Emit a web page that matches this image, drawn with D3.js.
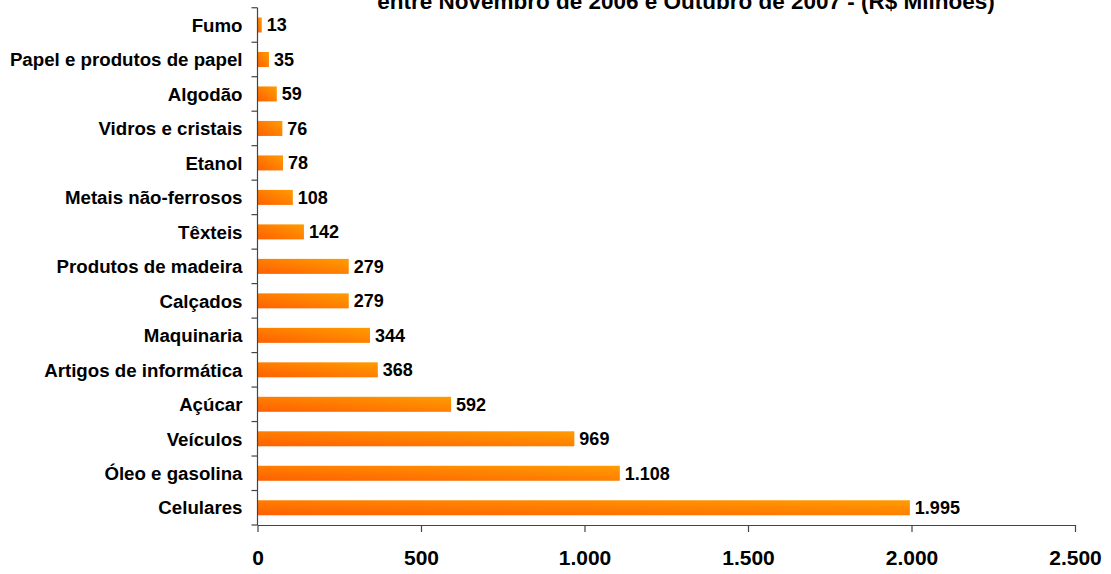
<!DOCTYPE html>
<html>
<head>
<meta charset="utf-8">
<script src="https://cdn.jsdelivr.net/npm/d3@7"></script>
<style>
  html, body { margin: 0; padding: 0; background: #fff; }
  svg { display: block; font-family: Arial, "Liberation Sans", sans-serif; }
</style>
</head>
<body>
<svg id="chart" width="1111" height="574"></svg>
<script>
const categories = ["Fumo", "Papel e produtos de papel", "Algodão", "Vidros e cristais", "Etanol",
  "Metais não-ferrosos", "Têxteis", "Produtos de madeira", "Calçados", "Maquinaria",
  "Artigos de informática", "Açúcar", "Veículos", "Óleo e gasolina", "Celulares"];
const values = [13, 35, 59, 76, 78, 108, 142, 279, 279, 344, 368, 592, 969, 1108, 1995];
const xTicks = [0, 500, 1000, 1500, 2000, 2500];
const titleText = "entre Novembro de 2006 e Outubro de 2007  - (R$ Milhões)";

const svg = d3.select("#chart");
const pLeft = 257.5, pRight = 1075, pTop = 7.75, pBottom = 525;

const fmt = v => d3.format(",")(v).replace(/,/g, ".");

const defs = svg.append("defs");
const grad = defs.append("linearGradient").attr("id", "barGrad")
  .attr("x1", "0").attr("y1", "1").attr("x2", "1").attr("y2", "0");
grad.append("stop").attr("offset", "0%").attr("stop-color", "#FF6000");
grad.append("stop").attr("offset", "100%").attr("stop-color", "#FF9C00");

const x = d3.scaleLinear().domain([0, 2500]).range([pLeft, pRight]);
const y = d3.scaleBand().domain(categories).range([pTop, pBottom])
  .paddingInner(0.565).paddingOuter(0.2825);

// title (clipped at top, as in the reference)
svg.append("text").attr("x", 686).attr("y", 9)
  .attr("text-anchor", "middle").attr("font-size", 22.5).attr("font-weight", "bold")
  .attr("fill", "#000").text(titleText);

// bars
svg.append("g").selectAll("rect").data(categories).join("rect")
  .attr("x", x(0)).attr("y", d => y(d))
  .attr("width", (d, i) => x(values[i]) - x(0))
  .attr("height", y.bandwidth())
  .attr("fill", "url(#barGrad)");

// value labels
svg.append("g").selectAll("text").data(categories).join("text")
  .attr("x", (d, i) => x(values[i]) + 5)
  .attr("y", d => y(d) + y.bandwidth() / 2)
  .attr("dy", "0.36em")
  .attr("font-size", 18).attr("font-weight", "bold").attr("fill", "#000")
  .text((d, i) => fmt(values[i]));

// x axis
const xAxis = svg.append("g").attr("transform", `translate(0,${pBottom})`)
  .call(d3.axisBottom(x).tickValues(xTicks).tickFormat(fmt).tickSize(7).tickSizeOuter(0));
xAxis.select(".domain").attr("stroke", "#444").attr("stroke-width", 1.2);
xAxis.selectAll(".tick line").attr("stroke", "#444").attr("stroke-width", 1.2);
xAxis.selectAll(".tick text").attr("font-size", 21).attr("font-weight", "bold")
  .attr("fill", "#000").attr("y", 40).attr("dy", "0")
  .style("font-family", "Arial, 'Liberation Sans', sans-serif");

// y axis: line and ticks at band boundaries
const yg = svg.append("g");
yg.append("line").attr("x1", pLeft).attr("x2", pLeft).attr("y1", pTop).attr("y2", pBottom)
  .attr("stroke", "#444").attr("stroke-width", 1.2);
const boundaries = d3.range(categories.length + 1).map(i => pTop + i * y.step());
yg.selectAll(".yt").data(boundaries).join("line").attr("class", "yt")
  .attr("x1", pLeft - 6).attr("x2", pLeft).attr("y1", d => d).attr("y2", d => d)
  .attr("stroke", "#444").attr("stroke-width", 1.2);
yg.selectAll(".yl").data(categories).join("text").attr("class", "yl")
  .attr("x", pLeft - 15).attr("y", d => y(d) + y.bandwidth() / 2)
  .attr("dy", "0.36em").attr("text-anchor", "end")
  .attr("font-size", 18.7).attr("font-weight", "bold").attr("fill", "#000")
  .text(d => d);
</script>
</body>
</html>
